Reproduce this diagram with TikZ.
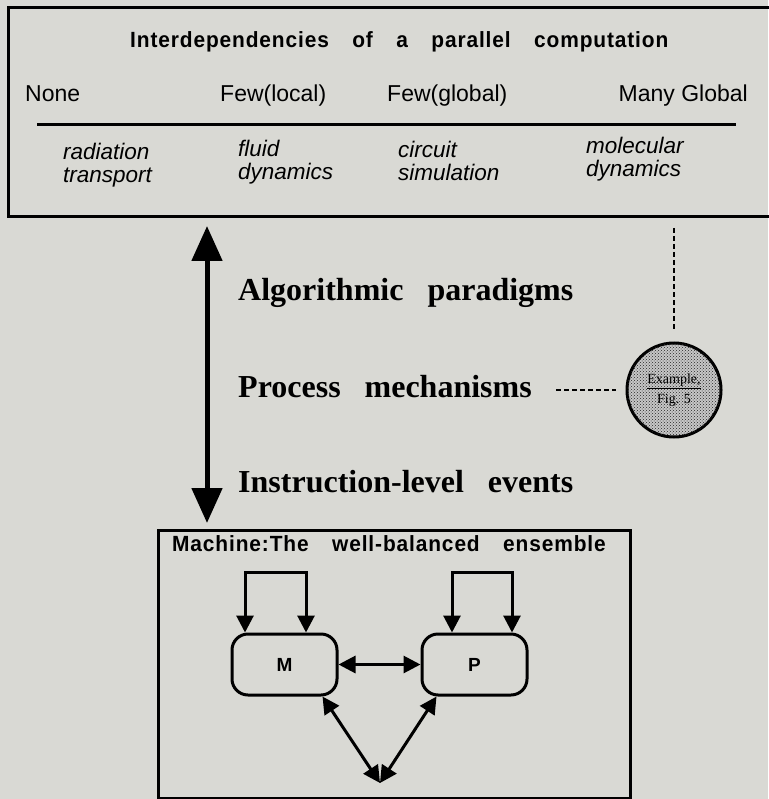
\documentclass[tikz,border=0pt]{standalone}
\usepackage{fontspec}
\setmainfont{Liberation Serif}
\setsansfont{Liberation Sans}
\newfontfamily\hdrfont{Liberation Sans}
\newfontfamily\ttlfont[FakeStretch=0.95,LetterSpace=4,WordSpace=3.5]{Liberation Sans}
\newfontfamily\lvlfont[WordSpace=3]{Liberation Serif}
\usetikzlibrary{arrows.meta, positioning, calc, patterns}
\definecolor{paper}{RGB}{217,217,212}

\begin{document}
\begin{tikzpicture}[
    x=1pt, y=-1pt,
    frame/.style={draw, line width=3pt, anchor=north west, inner sep=0pt},
    ttl/.style={font=\ttlfont\bfseries\fontsize{22}{24}\selectfont, inner sep=0pt, anchor=base west},
    hdr/.style={font=\hdrfont\fontsize{23}{25}\selectfont, inner sep=0pt, anchor=base west},
    app/.style={font=\hdrfont\itshape\fontsize{22.5}{23.5}\selectfont, inner sep=0pt, anchor=base west, align=left},
    level/.style={font=\lvlfont\bfseries\fontsize{32}{34}\selectfont, inner sep=0pt, anchor=base west},
    unit/.style={draw, line width=3pt, rounded corners=16pt, minimum width=105pt, minimum height=61pt, font=\sffamily\bfseries\fontsize{19}{21}\selectfont},
    figref/.style={circle, draw, line width=3pt, minimum size=94pt, inner sep=0pt, fill=black!22,
        postaction={pattern=crosshatch dots, pattern color=black!85}, align=center, font=\fontsize{14}{20}\selectfont},
    arr/.style={{Triangle[length=17pt,width=17pt]}-{Triangle[length=17pt,width=17pt]}, line width=3pt},
    bigarr/.style={{Triangle[length=35pt,width=30pt]}-{Triangle[length=35pt,width=30pt]}, line width=5pt},
    dashline/.style={line width=2pt, dash pattern=on 5pt off 3pt},
]
\useasboundingbox (0,0) rectangle (768,799);
\fill[paper] (0,0) rectangle (768,799);

% top panel
\node[frame, minimum width=780pt, minimum height=209pt] (interdep) at (7,6) {};
\node[ttl] (interdeptitle) at (130,48) {Interdependencies of a parallel computation};

\node[hdr] (hnone) at (25,102) {None};
\node[hdr] (hlocal) at (220,102) {Few(local)};
\node[hdr] (hglobal) at (387,102) {Few(global)};
\node[hdr, anchor=base east] (hmany) at (748,102) {Many Global};
\draw[line width=3pt] (37,125) -- (736,125);

\node[app] (aradiation) at (63,183) {radiation\\transport};
\node[app] (afluid) at (238,180) {fluid\\dynamics};
\node[app] (acircuit) at (398,181) {circuit\\simulation};
\node[app] (amolecular) at (586,177) {molecular\\dynamics};

% levels
\coordinate (axis) at (207,0);
\node[level] (algpar) at (238,300) {Algorithmic paradigms};
\node[level] (procmech) at (238,397) {Process mechanisms};
\node[level] (instlev) at (238,492) {Instruction-level events};

\node[figref] (fig5) at (674,390) {\underline{Example,}\\Fig. 5};

% machine panel
\node[frame, minimum width=472pt, minimum height=268pt] (machine) at (157,529) {};
\node[ttl] (machinetitle) at (172,551) {Machine:The well-balanced ensemble};

\node[unit] (M) at (284.5,664.5) {M};
\node[unit] (P) at (474.5,664.5) {P};
\coordinate (sink) at (380,783);

% connectors
\draw[bigarr, shorten <=8pt, shorten >=6pt] (interdep.south -| axis) -- (machine.north -| axis);
\draw[dashline, shorten <=10pt, shorten >=13pt] (interdep.south -| fig5) -- (fig5.north);
\draw[dashline, shorten <=24pt, shorten >=10pt] (procmech.east |- fig5.west) -- (fig5.west);

\draw[arr] ($(M.north)+(-39.5,0)$) -- ++(0,-60) -| ($(M.north)+(21.5,0)$);
\draw[arr] ($(P.north)+(-22.5,0)$) -- ++(0,-60) -| ($(P.north)+(37.5,0)$);
\draw[arr] (M) -- (P);
\draw[arr] ($(M.south)+(38,0)$) -- (sink);
\draw[arr] ($(P.south)+(-38,0)$) -- (sink);

\end{tikzpicture}
\end{document}
